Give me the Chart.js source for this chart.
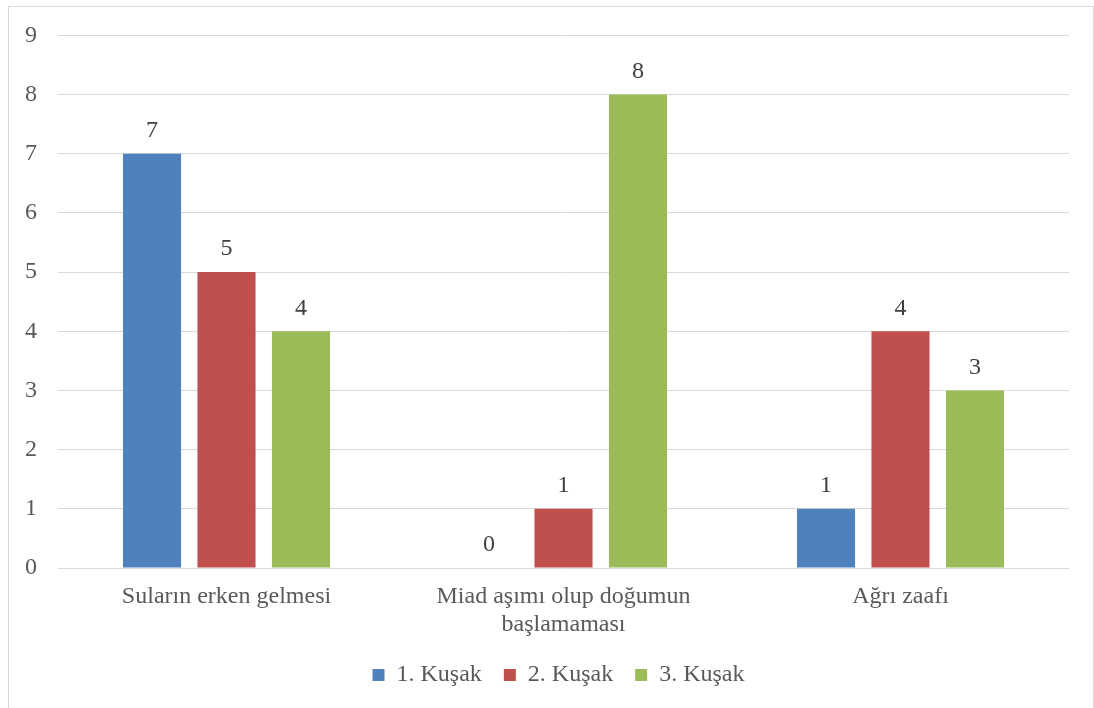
<!DOCTYPE html>
<html>
<head>
<meta charset="utf-8">
<script src="https://cdn.jsdelivr.net/npm/chart.js@4.4.0/dist/chart.umd.min.js"></script>
<style>
  html, body { margin: 0; padding: 0; background: #fff; overflow: hidden; }
  #wrap { position: relative; width: 1094px; height: 708px; }
  #frame { position: absolute; left: 8px; top: 6px; width: 1084px; height: 720px; border: 1px solid #d9d9d9; pointer-events: none; }
  canvas { position: absolute; left: 0; top: 0; }
</style>
</head>
<body>
<div id="wrap">
  <canvas id="c" width="1094" height="708"></canvas>
  <div id="frame"></div>
</div>
<script>
const categories = [
  "Suların erken gelmesi",
  ["Miad aşımı olup doğumun", "başlamaması"],
  "Ağrı zaafı"
];
const seriesNames = ["1. Kuşak", "2. Kuşak", "3. Kuşak"];
const kusak1 = [7, 0, 1];
const kusak2 = [5, 1, 4];
const kusak3 = [4, 8, 3];
const yTicks = [0, 1, 2, 3, 4, 5, 6, 7, 8, 9];
const colors = ["#4F81BD", "#C0504D", "#9BBB59"];

const FONT = "'Liberation Serif', 'Times New Roman', serif";

const valueLabels = {
  id: 'valueLabels',
  afterDatasetsDraw(chart) {
    const ctx = chart.ctx;
    ctx.save();
    ctx.font = "24px " + FONT;
    ctx.fillStyle = "#404040";
    ctx.textAlign = "center";
    ctx.textBaseline = "middle";
    chart.data.datasets.forEach((ds, i) => {
      const meta = chart.getDatasetMeta(i);
      meta.data.forEach((bar, j) => {
        ctx.fillText(String(ds.data[j]), bar.x, bar.y - 23);
      });
    });
    ctx.restore();
  }
};

const legendShift = {
  id: 'legendShift',
  afterLayout(chart) {
    if (chart.legend) {
      chart.legend.left += 24;
      chart.legend.right += 24;
    }
  }
};

new Chart(document.getElementById('c'), {
  type: 'bar',
  data: {
    labels: categories,
    datasets: [
      { label: seriesNames[0], data: kusak1, backgroundColor: colors[0] },
      { label: seriesNames[1], data: kusak2, backgroundColor: colors[1] },
      { label: seriesNames[2], data: kusak3, backgroundColor: colors[2] }
    ]
  },
  options: {
    responsive: false,
    devicePixelRatio: 1,
    animation: false,
    layout: { padding: { top: 35, right: 25, left: 0, bottom: 11 } },
    datasets: { bar: { categoryPercentage: 0.663, barPercentage: 0.78 } },
    scales: {
      x: {
        grid: { display: false, drawTicks: false },
        border: { display: false },
        ticks: { color: "#595959", font: { family: FONT, size: 24 }, padding: 14, maxRotation: 0, autoSkip: false },
        afterFit(scale) { scale.height = 73; }
      },
      y: {
        min: 0, max: 9,
        afterBuildTicks(scale) { scale.ticks = yTicks.map(v => ({ value: v })); },
        grid: { color: "#d9d9d9", lineWidth: 1, drawTicks: false },
        border: { display: false },
        ticks: { color: "#595959", font: { family: FONT, size: 24 }, padding: 21 },
        afterFit(scale) { scale.width = 58; }
      }
    },
    plugins: {
      legend: {
        position: 'bottom',
        labels: {
          color: "#595959",
          font: { family: FONT, size: 24 },
          boxWidth: 12, boxHeight: 12,
          padding: 22
        }
      },
      tooltip: { enabled: false }
    }
  },
  plugins: [valueLabels, legendShift]
});
</script>
</body>
</html>
